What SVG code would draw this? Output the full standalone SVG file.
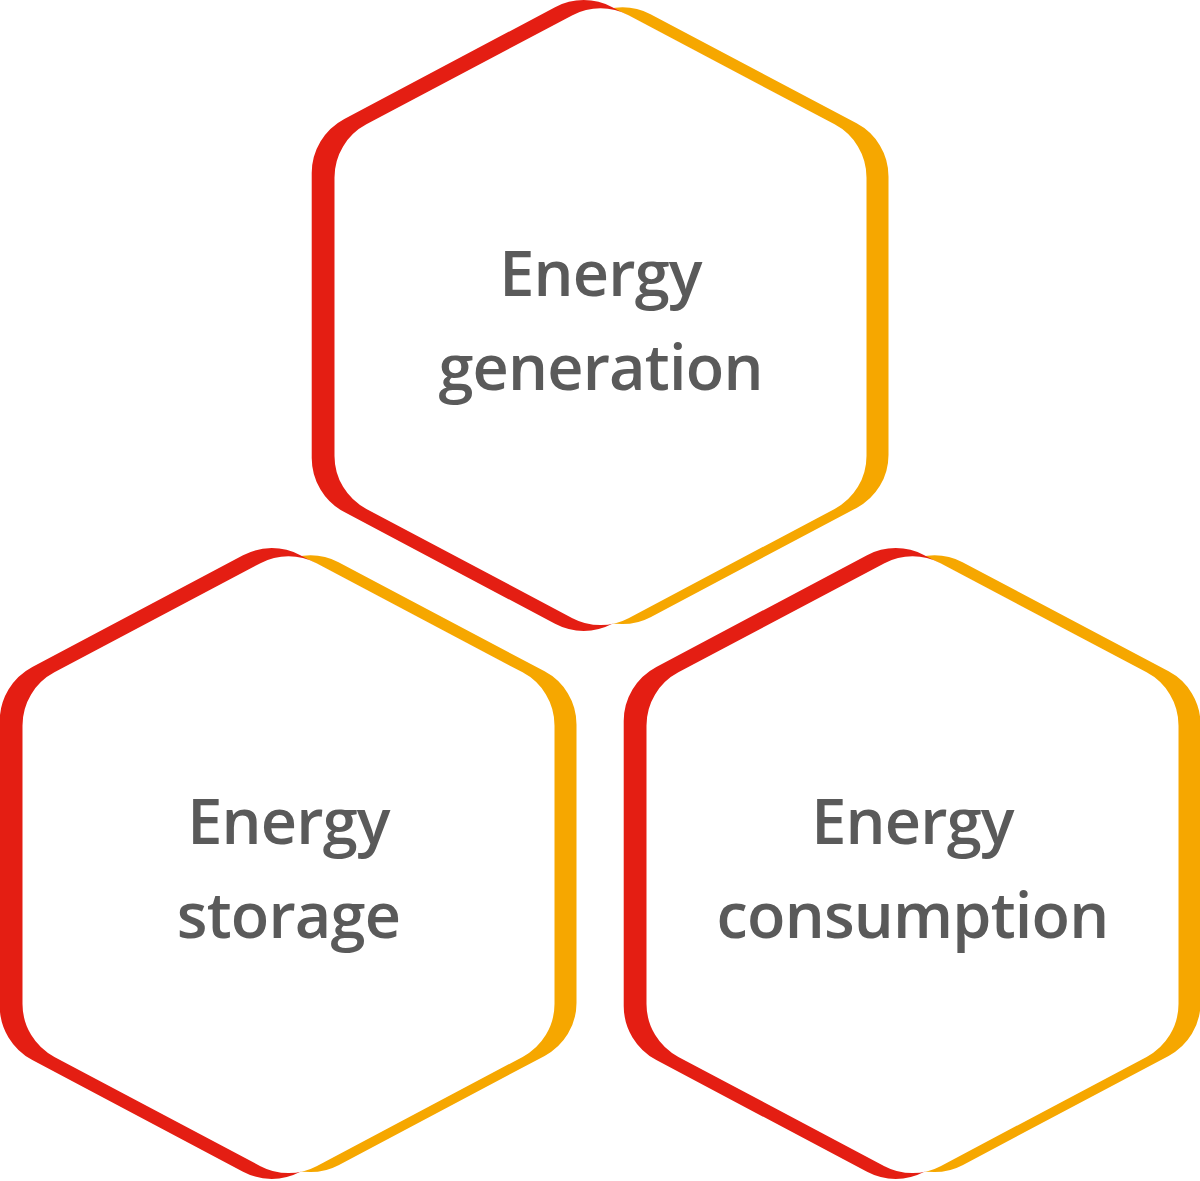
<svg xmlns="http://www.w3.org/2000/svg" xmlns:xlink="http://www.w3.org/1999/xlink" width="1200" height="1181" viewBox="0 0 1200 1181">
  <style>
    .red { fill: #E41E13; }
    .orange { fill: #F6A700; }
    .white { fill: #FFFFFF; }
    .label { font-family: "Open Sans", "Liberation Sans", sans-serif; font-weight: 600; font-size: 63px; letter-spacing: -0.8px; fill: #5A5A5A; text-anchor: middle; }
  </style>
  <defs>
    <path id="hex" d="M28.05,-301.48 L234.10,-192.28 A60,60 0 0 1 266,-139.26 L266,139.26 A60,60 0 0 1 234.10,192.28 L28.05,301.48 A60,60 0 0 1 -28.05,301.48 L-234.10,192.28 A60,60 0 0 1 -266,139.26 L-266,-139.26 A60,60 0 0 1 -234.10,-192.28 L-28.05,-301.48 A60,60 0 0 1 28.05,-301.48 Z"/>
    <g id="hexnode">
      <use xlink:href="#hex" class="orange" transform="translate(22,-1)"/>
      <use xlink:href="#hex" class="red" transform="translate(-16.8,-1.15) scale(1.0225)"/>
      <use xlink:href="#hex" class="white"/>
    </g>
  </defs>
  <g id="connectors"></g>
  <g id="node-generation" transform="translate(600.5,316.65)">
    <use xlink:href="#hexnode"/>
    <text class="label" x="0" y="-20.65">Energy</text>
    <text class="label" x="0" y="73.35">generation</text>
  </g>
  <g id="node-storage" transform="translate(288.5,864.65)">
    <use xlink:href="#hexnode"/>
    <text class="label" x="0" y="-20.65">Energy</text>
    <text class="label" x="0" y="73.35">storage</text>
  </g>
  <g id="node-consumption" transform="translate(912.5,864.65)">
    <use xlink:href="#hexnode"/>
    <text class="label" x="0" y="-20.65">Energy</text>
    <text class="label" x="0" y="73.35">consumption</text>
  </g>
</svg>
